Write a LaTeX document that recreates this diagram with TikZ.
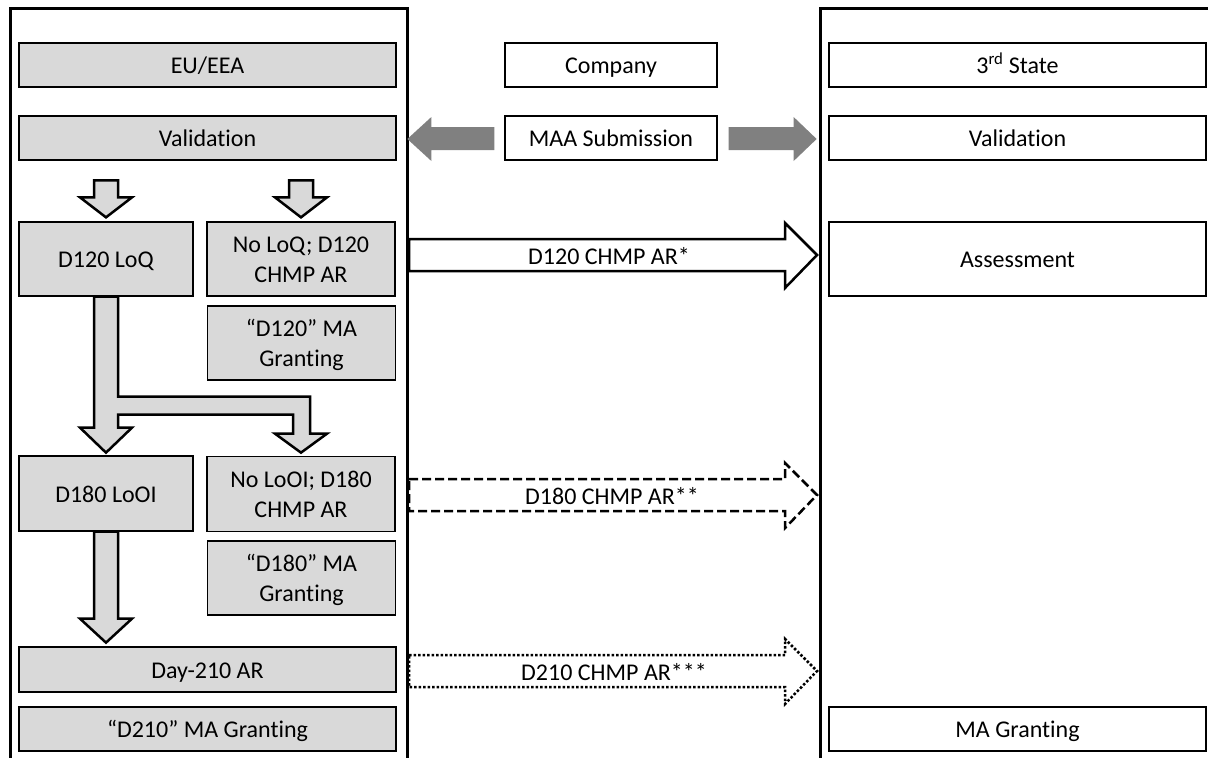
\documentclass[tikz,border=0pt]{standalone}
\usepackage{fontspec}
\setmainfont{Carlito}[Ligatures=NoCommon]
\usetikzlibrary{calc}
\definecolor{boxgrey}{HTML}{D9D9D9}
\definecolor{arrowgrey}{HTML}{808080}

% line strut so that every text line sits at the same height
\newcommand\linestrut{\rule[-6.5pt]{0pt}{30pt}}
% two centred lines stacked on a fixed 30pt pitch
\newcommand\twolines[2]{\vbox{\halign{\hfil##\hfil\cr\linestrut#1\cr\linestrut#2\cr}}}
% vertical block arrow: #1 top centre, #2 shaft length, #3 head length
\newcommand\downblock[3]{%
  \draw[blockarrow] #1 ++(-12,0) -- ++(0,#2) -- ++(-14,0) -- ++(26,#3)
    -- ++(26,-#3) -- ++(-14,0) -- ++(0,-#2) -- cycle;}
% horizontal outlined arrow: #1 style, #2 start (left end, centre line)
\newcommand\rightblock[2]{%
  \draw[#1] #2 ++(0,-16) -- ++(376,0) -- ++(0,-16) -- ++(32,32)
    -- ++(-32,33) -- ++(0,-17) -- ++(-376,0) -- cycle;}

\begin{document}
\begin{tikzpicture}[x=1pt,y=-1pt,
  box/.style={draw=black, line width=1.3pt, inner sep=0pt,
    font=\fontsize{24}{30}\selectfont},
  grey/.style={box, fill=boxgrey},
  plain/.style={box, fill=white},
  frame/.style={line width=3pt},
  blockarrow/.style={draw=black, line width=2.5pt, fill=boxgrey, line join=miter},
  solidflow/.style={draw=black, line width=2.5pt, fill=white},
  dashflow/.style={draw=black, line width=2.5pt, fill=white, dash pattern=on 9pt off 4pt},
  dotflow/.style={draw=black, line width=2.5pt, fill=white, dash pattern=on 2.5pt off 2pt},
  sidearrow/.style={fill=arrowgrey},
  flowlabel/.style={font=\fontsize{24}{30}\selectfont, inner sep=0pt},
]
\useasboundingbox (0,0) rectangle (1208,758);

% column frames
\draw[frame] (10,760) -- (10,8) -- (407,8) -- (407,760);
\draw[frame] (820,760) -- (820,8) -- (1212,8);

% EU/EEA column
\node[grey, minimum width=377pt, minimum height=44pt] (eu) at (207.5,65) {\linestrut EU/EEA};
\node[grey, minimum width=377pt, minimum height=44pt] (val) at (207.5,138) {\linestrut Validation};
\node[grey, minimum width=174pt, minimum height=74pt] (loq) at (106,259) {\linestrut D120 LoQ};
\node[grey, minimum width=188pt, minimum height=74pt] (noloq) at (301,259) {\twolines{No LoQ; D120}{CHMP AR}};
\node[grey, minimum width=188pt, minimum height=74pt] (g120) at (301.5,343) {\twolines{“D120” MA}{Granting}};
\node[grey, minimum width=174pt, minimum height=75pt] (loi) at (106,493.5) {\linestrut D180 LoOI};
\node[grey, minimum width=188pt, minimum height=75pt] (noloi) at (301,494) {\twolines{No LoOI; D180}{CHMP AR}};
\node[grey, minimum width=188pt, minimum height=74pt] (g180) at (301.5,578) {\twolines{“D180” MA}{Granting}};
\node[grey, minimum width=377pt, minimum height=45pt] (d210) at (207.5,669.5) {\linestrut Day-210 AR};
\node[grey, minimum width=377pt, minimum height=44pt] (g210) at (207.5,729) {\linestrut “D210” MA Granting};

% company column
\node[plain, minimum width=212pt, minimum height=44pt] (comp) at (611,65) {\linestrut Company};
\node[plain, minimum width=212pt, minimum height=44pt] (maa) at (611,138) {\linestrut MAA Submission};

% third state column
\node[plain, minimum width=377pt, minimum height=44pt] (third) at (1017.5,65) {\linestrut 3\textsuperscript{rd} State};
\node[plain, minimum width=377pt, minimum height=44pt] (val3) at (1017.5,138) {\linestrut Validation};
\node[plain, minimum width=377pt, minimum height=74pt] (assess) at (1017.5,259) {\linestrut Assessment};
\node[plain, minimum width=377pt, minimum height=44pt] (mag) at (1017.5,729) {\linestrut MA Granting};

% submission arrows
\fill[sidearrow] ($(maa.west)+(-10,-11)$) -- ++(-63,0) -- ++(0,-10) -- ++(-24,22)
  -- ++(24,22) -- ++(0,-11) -- ++(63,0) -- cycle;
\fill[sidearrow] ($(maa.east)+(11,-11)$) -- ++(65,0) -- ++(0,-10) -- ++(23,22)
  -- ++(-23,22) -- ++(0,-11) -- ++(-65,0) -- cycle;

% EU/EEA flow
\downblock{($(loq.north)+(0,-41)$)}{17}{20}
\downblock{($(noloq.north)+(0,-41)$)}{17}{20}
\draw[blockarrow] ($(loq.south)+(-12,0)$) -- ++(0,131) -- ++(-14,0) -- ++(26,25)
  -- ++(26,-25) -- ++(-14,0) -- ++(0,-13) -- ++(175,0) -- ++(0,19) -- ++(-18,0)
  -- ++(26,19) -- ++(26,-19) -- ++(-17,0) -- ++(0,-37) -- ++(-192,0)
  -- ($(loq.south)+(12,0)$) -- cycle;
\downblock{(loi.south)}{87}{24}

% assessment reports sent to the third state
\coordinate (r120) at (409,255);
\coordinate (r180) at (409,495);
\coordinate (r210) at (409,671);
\rightblock{solidflow}{(r120)}
\rightblock{dashflow}{(r180)}
\rightblock{dotflow}{(r210)}
\node[flowlabel] (l120) at (609,256) {\linestrut D120 CHMP AR*};
\node[flowlabel] (l180) at (612,496) {\linestrut D180 CHMP AR**};
\node[flowlabel] (l210) at (614,672) {\linestrut D210 CHMP AR***};
\end{tikzpicture}
\end{document}
